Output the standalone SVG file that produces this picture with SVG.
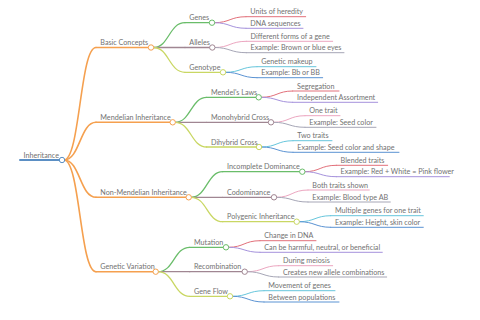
<svg xmlns="http://www.w3.org/2000/svg" width="480" height="320" viewBox="0 0 480 320">
<style>
path{fill:none;stroke-linecap:round}
circle{fill:#fff;stroke-width:1}
text{font-family:Lato,"Open Sans","Liberation Sans",sans-serif;font-size:7.2px;fill:#727272}
.rt{stroke:#5b8fc4}
.o{stroke:#f5a04f}
.g{stroke:#6abd6a}
.m{stroke:#a08692}
.y{stroke:#c9d763}
.r{stroke:#e2707a}
.p{stroke:#a592dc}
.k{stroke:#eca6c0}
.s{stroke:#a6a6b6}
.c{stroke:#67c6dc}
.b{stroke:#5b93d3}
.w0{stroke-width:2}
.w1{stroke-width:1.6}
.w2{stroke-width:1.3}
.w3{stroke-width:1}
</style>
<rect width="480" height="320" fill="#fff"/>
<g id="connectors">
<path class="o w1" d="M64,160 C80,160 80,47.5 96,47.5"/>
<path class="o w1" d="M64,160 C80,160 80,122.3 96,122.3"/>
<path class="o w1" d="M64,160 C80,160 80,197.3 96,197.3"/>
<path class="o w1" d="M64,160 C80,160 80,271.7 96,271.7"/>
<path class="g w2" d="M153.5,47.5 C169,47.5 169,22.7 185,22.7"/>
<path class="m w2" d="M153.5,47.5 H185"/>
<path class="y w2" d="M153.5,47.5 C169,47.5 169,72.3 185,72.3"/>
<path class="g w2" d="M175,122.3 C191,122.3 191,97.3 206.7,97.3"/>
<path class="m w2" d="M175,122.3 H206.7"/>
<path class="y w2" d="M175,122.3 C191,122.3 191,147 206.7,147"/>
<path class="g w2" d="M191,197.3 C207,197.3 207,171.7 222.7,171.7"/>
<path class="m w2" d="M191,197.3 H222.7"/>
<path class="y w2" d="M191,197.3 C207,197.3 207,221.7 222.7,221.7"/>
<path class="g w2" d="M158,271.7 C174,271.7 174,247.3 189.7,247.3"/>
<path class="m w2" d="M158,271.7 H189.7"/>
<path class="y w2" d="M158,271.7 C174,271.7 174,296.3 189.7,296.3"/>
<path class="r w3" d="M214.5,22.7 C230,22.7 230,16.7 246,16.7"/>
<path class="p w3" d="M214.5,22.7 C230,22.7 230,28.3 246,28.3"/>
<path class="k w3" d="M214.8,47.5 C230,47.5 230,41.3 246.3,41.3"/>
<path class="s w3" d="M214.8,47.5 C230,47.5 230,52.7 246.3,52.7"/>
<path class="c w3" d="M225.5,72.3 C241,72.3 241,66.7 257,66.7"/>
<path class="b w3" d="M225.5,72.3 C241,72.3 241,77.7 257,77.7"/>
<path class="r w3" d="M261.2,97.3 C277,97.3 277,91 292.7,91"/>
<path class="p w3" d="M261.2,97.3 C277,97.3 277,102.3 292.7,102.3"/>
<path class="k w3" d="M273.5,122.3 C289,122.3 289,115.7 305,115.7"/>
<path class="s w3" d="M273.5,122.3 C289,122.3 289,127.3 305,127.3"/>
<path class="c w3" d="M261.5,147 C277,147 277,140.7 293,140.7"/>
<path class="b w3" d="M261.5,147 C277,147 277,152.3 293,152.3"/>
<path class="r w3" d="M304.8,171.7 C320,171.7 320,165.3 336.3,165.3"/>
<path class="p w3" d="M304.8,171.7 C320,171.7 320,176.7 336.3,176.7"/>
<path class="k w3" d="M276.5,197.3 C292,197.3 292,190 308,190"/>
<path class="s w3" d="M276.5,197.3 C292,197.3 292,202 308,202"/>
<path class="c w3" d="M299.2,221.7 C315,221.7 315,215.7 330.7,215.7"/>
<path class="b w3" d="M299.2,221.7 C315,221.7 315,227.3 330.7,227.3"/>
<path class="r w3" d="M228.5,247.3 C244,247.3 244,240.7 260,240.7"/>
<path class="p w3" d="M228.5,247.3 C244,247.3 244,252.3 260,252.3"/>
<path class="k w3" d="M247.2,271.7 C263,271.7 263,265.7 278.7,265.7"/>
<path class="s w3" d="M247.2,271.7 C263,271.7 263,277 278.7,277"/>
<path class="c w3" d="M232.5,296.3 C248,296.3 248,290.7 264,290.7"/>
<path class="b w3" d="M232.5,296.3 C248,296.3 248,302 264,302"/>
</g>
<g id="n-root"><path class="rt w0" d="M20,160 H62"/><circle class="rt" cx="62" cy="160" r="2.7"/><text x="23.5" y="157.5">Inheritance</text></g>
<g id="n-basic"><path class="o w1" d="M96,47.5 H151"/><circle class="o" cx="151" cy="47.5" r="2.7"/><text x="100.3" y="45.2">Basic Concepts</text></g>
<g id="n-mendelian"><path class="o w1" d="M96,122.3 H172.7"/><circle class="o" cx="172.7" cy="122.3" r="2.7"/><text x="100.3" y="120">Mendelian Inheritance</text></g>
<g id="n-nonmendelian"><path class="o w1" d="M96,197.3 H188.7"/><circle class="o" cx="188.7" cy="197.3" r="2.7"/><text x="100.3" y="195">Non-Mendelian Inheritance</text></g>
<g id="n-variation"><path class="o w1" d="M96,271.7 H155.7"/><circle class="o" cx="155.7" cy="271.7" r="2.7"/><text x="100.3" y="269.4">Genetic Variation</text></g>
<g id="n-genes"><path class="g w2" d="M185,22.7 H212"/><circle class="g" cx="212" cy="22.7" r="2.7"/><text x="189.3" y="20.4">Genes</text></g>
<g id="n-alleles"><path class="m w2" d="M185,47.5 H212.3"/><circle class="m" cx="212.3" cy="47.5" r="2.7"/><text x="189.3" y="45.2">Alleles</text></g>
<g id="n-genotype"><path class="y w2" d="M185,72.3 H223"/><circle class="y" cx="223" cy="72.3" r="2.7"/><text x="189.3" y="70">Genotype</text></g>
<g id="n-laws"><path class="g w2" d="M206.7,97.3 H258.7"/><circle class="g" cx="258.7" cy="97.3" r="2.7"/><text x="211" y="95">Mendel's Laws</text></g>
<g id="n-mono"><path class="m w2" d="M206.7,122.3 H271"/><circle class="m" cx="271" cy="122.3" r="2.7"/><text x="211" y="120">Monohybrid Cross</text></g>
<g id="n-di"><path class="y w2" d="M206.7,147 H259"/><circle class="y" cx="259" cy="147" r="2.7"/><text x="211" y="144.7">Dihybrid Cross</text></g>
<g id="n-incomplete"><path class="g w2" d="M222.7,171.7 H302.3"/><circle class="g" cx="302.3" cy="171.7" r="2.7"/><text x="227" y="169.4">Incomplete Dominance</text></g>
<g id="n-codom"><path class="m w2" d="M222.7,197.3 H274"/><circle class="m" cx="274" cy="197.3" r="2.7"/><text x="227" y="195">Codominance</text></g>
<g id="n-polygenic"><path class="y w2" d="M222.7,221.7 H296.7"/><circle class="y" cx="296.7" cy="221.7" r="2.7"/><text x="227" y="219.4">Polygenic Inheritance</text></g>
<g id="n-mutation"><path class="g w2" d="M189.7,247.3 H226"/><circle class="g" cx="226" cy="247.3" r="2.7"/><text x="194" y="245">Mutation</text></g>
<g id="n-recomb"><path class="m w2" d="M189.7,271.7 H244.7"/><circle class="m" cx="244.7" cy="271.7" r="2.7"/><text x="194" y="269.4">Recombination</text></g>
<g id="n-flow"><path class="y w2" d="M189.7,296.3 H230"/><circle class="y" cx="230" cy="296.3" r="2.7"/><text x="194" y="294">Gene Flow</text></g>
<g id="l-units"><path class="r w3" d="M246,16.7 H305.7"/><text x="250.3" y="14.4">Units of heredity</text></g>
<g id="l-dna"><path class="p w3" d="M246,28.3 H303"/><text x="250.3" y="26">DNA sequences</text></g>
<g id="l-forms"><path class="k w3" d="M246.3,41.3 H332.7"/><text x="250.6" y="39">Different forms of a gene</text></g>
<g id="l-eyes"><path class="s w3" d="M246.3,52.7 H344"/><text x="250.6" y="50.4">Example: Brown or blue eyes</text></g>
<g id="l-makeup"><path class="c w3" d="M257,66.7 H316"/><text x="261.3" y="64.4">Genetic makeup</text></g>
<g id="l-bb"><path class="b w3" d="M257,77.7 H322.7"/><text x="261.3" y="75.4">Example: Bb or BB</text></g>
<g id="l-segregation"><path class="r w3" d="M292.7,91 H339"/><text x="297" y="88.7">Segregation</text></g>
<g id="l-independent"><path class="p w3" d="M292.7,102.3 H377.7"/><text x="297" y="100">Independent Assortment</text></g>
<g id="l-onetrait"><path class="k w3" d="M305,115.7 H340"/><text x="309.3" y="113.4">One trait</text></g>
<g id="l-seedcolor"><path class="s w3" d="M305,127.3 H376"/><text x="309.3" y="125">Example: Seed color</text></g>
<g id="l-twotraits"><path class="c w3" d="M293,140.7 H332"/><text x="297.3" y="138.4">Two traits</text></g>
<g id="l-seedshape"><path class="b w3" d="M293,152.3 H399"/><text x="297.3" y="150">Example: Seed color and shape</text></g>
<g id="l-blended"><path class="r w3" d="M336.3,165.3 H387.7"/><text x="340.6" y="163">Blended traits</text></g>
<g id="l-pink"><path class="p w3" d="M336.3,176.7 H449.3"/><text x="340.6" y="174.4">Example: Red + White = Pink flower</text></g>
<g id="l-both"><path class="k w3" d="M308,190 H369.3"/><text x="312.3" y="187.7">Both traits shown</text></g>
<g id="l-blood"><path class="s w3" d="M308,202 H390.3"/><text x="312.3" y="199.7">Example: Blood type AB</text></g>
<g id="l-multiple"><path class="c w3" d="M330.7,215.7 H423.3"/><text x="335" y="213.4">Multiple genes for one trait</text></g>
<g id="l-height"><path class="b w3" d="M330.7,227.3 H423.3"/><text x="335" y="225">Example: Height, skin color</text></g>
<g id="l-change"><path class="r w3" d="M260,240.7 H316"/><text x="264.3" y="238.4">Change in DNA</text></g>
<g id="l-harmful"><path class="p w3" d="M260,252.3 H382.3"/><text x="264.3" y="250">Can be harmful, neutral, or beneficial</text></g>
<g id="l-meiosis"><path class="k w3" d="M278.7,265.7 H332.7"/><text x="283" y="263.4">During meiosis</text></g>
<g id="l-creates"><path class="s w3" d="M278.7,277 H386.7"/><text x="283" y="274.7">Creates new allele combinations</text></g>
<g id="l-movement"><path class="c w3" d="M264,290.7 H335"/><text x="268.3" y="288.4">Movement of genes</text></g>
<g id="l-between"><path class="b w3" d="M264,302 H339"/><text x="268.3" y="299.7">Between populations</text></g>
</svg>
